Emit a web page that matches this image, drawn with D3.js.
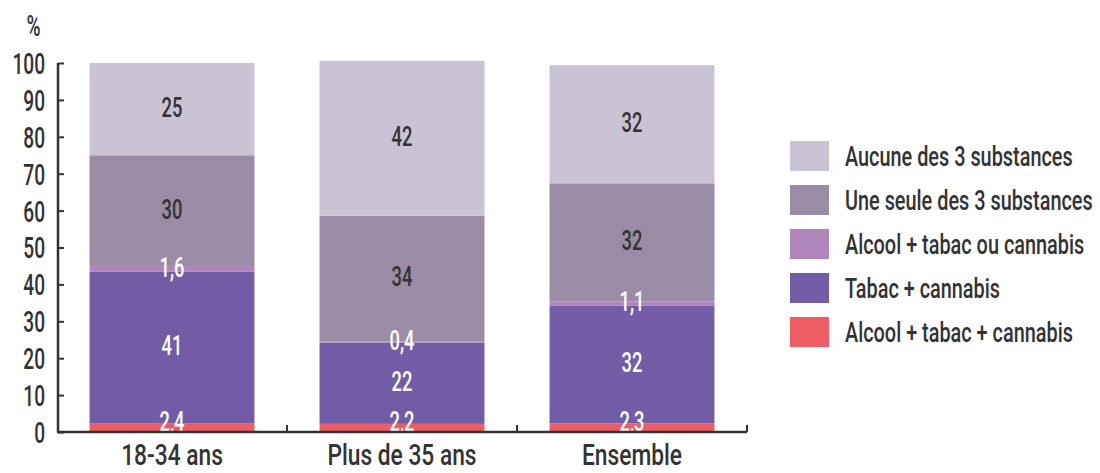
<!DOCTYPE html>
<html>
<head>
<meta charset="utf-8">
<script src="https://cdn.jsdelivr.net/npm/d3@7"></script>
<style>
  html, body { margin: 0; padding: 0; background: #fff; }
  svg text { font-family: Roboto, "DejaVu Sans", sans-serif; font-weight: 500; fill: #333; }
</style>
</head>
<body>
<svg id="chart" width="1100" height="473"></svg>
<script>
const categories = ["18-34 ans", "Plus de 35 ans", "Ensemble"];
const seriesNames = ["Alcool + tabac + cannabis", "Tabac + cannabis", "Alcool + tabac ou cannabis", "Une seule des 3 substances", "Aucune des 3 substances"];
const seriesColors = ["#ee5c64", "#725ca6", "#b085bb", "#9a8ca5", "#c9c3d3"];
const labelColors = ["#fff", "#fff", "#fff", "#333", "#333"];
const alcoolTabacCannabis = [2.4, 2.2, 2.3];
const tabacCannabis = [41, 22, 32];
const alcoolTabacOuCannabis = [1.6, 0.4, 1.1];
const uneSeule = [30, 34, 32];
const aucune = [25, 42, 32];
const valueLabels = [
  ["2,4", "2,2", "2,3"],
  ["41", "22", "32"],
  ["1,6", "0,4", "1,1"],
  ["30", "34", "32"],
  ["25", "42", "32"]
];
const yTicks = [0, 10, 20, 30, 40, 50, 60, 70, 80, 90, 100];

function squeeze(sel, sx) {
  sel.each(function () {
    const t = d3.select(this);
    const tx = +t.attr("x") || 0, ty = +t.attr("y") || 0;
    t.attr("transform", `translate(${tx},${ty}) scale(${sx},1) translate(${-tx},${-ty})`);
  });
}

const seriesValues = [alcoolTabacCannabis, tabacCannabis, alcoolTabacOuCannabis, uneSeule, aucune];
const table = categories.map((c, i) => {
  const row = { cat: c };
  seriesNames.forEach((s, j) => row[s] = seriesValues[j][i]);
  return row;
});

const svg = d3.select("#chart");
const x = d3.scaleBand().domain(categories).range([57, 747]).paddingInner(0.283).paddingOuter(0.1415);
const y = d3.scaleLinear().domain([0, 100]).range([432, 63]);

const stacked = d3.stack().keys(seriesNames)(table);

const g = svg.append("g");
stacked.forEach((layer, j) => {
  g.selectAll(null).data(layer).join("rect")
    .attr("x", d => x(d.data.cat))
    .attr("width", x.bandwidth())
    .attr("y", d => y(d[1]))
    .attr("height", d => y(d[0]) - y(d[1]))
    .attr("fill", seriesColors[j]);
});

// value labels
stacked.forEach((layer, j) => {
  g.selectAll(null).data(layer).join("text")
    .attr("x", d => x(d.data.cat) + x.bandwidth() / 2)
    .attr("y", d => Math.min(y((d[0] + d[1]) / 2) + 8, 431))
    .attr("text-anchor", "middle")
    .style("font-size", "27px")
    .style("fill", labelColors[j])
    .text((d, i) => valueLabels[j][i])
    .call(squeeze, 0.68);
});

// y axis
const yAxis = d3.axisLeft(y).tickValues(yTicks).tickSize(-6).tickPadding(13);
const ya = svg.append("g").attr("transform", "translate(58,0)").call(yAxis);
ya.select(".domain").attr("d", "M0,63V432").attr("stroke", "#333").attr("stroke-width", 2.5);
ya.selectAll(".tick line").attr("stroke", "#333").attr("stroke-width", 2);
ya.selectAll(".tick text").style("font-size", "29px").attr("fill", "#333").attr("font-family", null).attr("dy", "0.36em")
  .call(squeeze, 0.66);

// x axis
const xAxis = d3.axisBottom(x).tickSize(0).tickPadding(33);
const xa = svg.append("g").attr("transform", "translate(0,432)").call(xAxis);
xa.select(".domain").attr("d", "M57,0H747").attr("stroke", "#333").attr("stroke-width", 2.5);
xa.selectAll(".tick text").style("font-size", "29px").attr("fill", "#333").attr("font-family", null).attr("dy", "0")
  .call(squeeze, 0.785);
svg.append("g").selectAll("line").data([1, 2, 3]).join("line")
  .attr("x1", k => x.range()[0] + k * x.step()).attr("x2", k => x.range()[0] + k * x.step())
  .attr("y1", 432).attr("y2", 425).attr("stroke", "#333").attr("stroke-width", 2);

// unit
svg.append("text").attr("x", 33.5).attr("y", 36).attr("text-anchor", "middle").style("font-size", "29px").text("%")
  .call(squeeze, 0.66);

// legend
const legendOrder = [4, 3, 2, 1, 0];
const lg = svg.append("g").attr("transform", "translate(790,141)");
legendOrder.forEach((j, k) => {
  lg.append("rect").attr("x", 0).attr("y", k * 44).attr("width", 39).attr("height", 30).attr("fill", seriesColors[j]);
  lg.append("text").attr("x", 55).attr("y", k * 44 + 25).style("font-size", "28px").text(seriesNames[j])
    .call(squeeze, 0.71);
});
</script>
</body>
</html>
